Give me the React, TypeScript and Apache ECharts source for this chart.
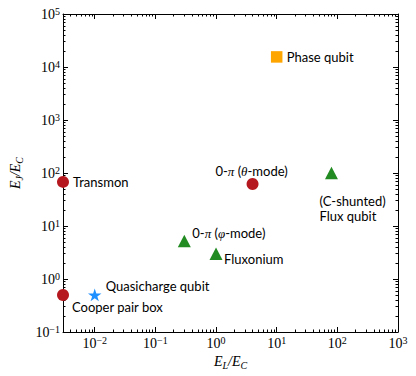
import { useEffect, useRef } from 'react';
import * as echarts from 'echarts';

// ---- data (E_L/E_C, E_J/E_C) ----
const X_MIN = 0.003;
const X_MAX = 1000;
const Y_MIN = 0.1;
const Y_MAX = 100000;

const xTickExponents = [-2, -1, 0, 1, 2, 3];
const yTickExponents = [-1, 0, 1, 2, 3, 4, 5];

const circleNames = ['Transmon', 'Cooper pair box', '0-π (θ-mode)'];
const circleEL = [0.003, 0.003, 4];
const circleEJ = [68, 0.5, 62];

const triangleNames = ['(C-shunted) Flux qubit', '0-π (φ-mode)', 'Fluxonium'];
const triangleEL = [80, 0.3, 1];
const triangleEJ = [100, 5.2, 3];

const squareNames = ['Phase qubit'];
const squareEL = [10];
const squareEJ = [15500];

const starNames = ['Quasicharge qubit'];
const starEL = [0.01];
const starEJ = [0.5];

// ---- label text and placement (offset of text anchor from marker centre, px) ----
const labelText: Record<string, string> = {
  'Transmon': 'Transmon',
  'Cooper pair box': 'Cooper pair box',
  '0-π (θ-mode)': '0-{m|π} ({m|θ}-mode)',
  '(C-shunted) Flux qubit': '(C-shunted)\nFlux qubit',
  '0-π (φ-mode)': '0-{m|π} ({m|φ}-mode)',
  'Fluxonium': 'Fluxonium',
  'Phase qubit': 'Phase qubit',
  'Quasicharge qubit': 'Quasicharge qubit',
};
const labelPlace: Record<string, { ox: number; oy: number; align: string }> = {
  'Transmon': { ox: 10, oy: 0, align: 'left' },
  'Cooper pair box': { ox: 9, oy: 12, align: 'left' },
  '0-π (θ-mode)': { ox: -1, oy: -13, align: 'center' },
  '(C-shunted) Flux qubit': { ox: -12, oy: 35, align: 'left' },
  '0-π (φ-mode)': { ox: 8, oy: -8, align: 'left' },
  'Fluxonium': { ox: 8, oy: 5, align: 'left' },
  'Phase qubit': { ox: 10, oy: 0, align: 'left' },
  'Quasicharge qubit': { ox: 11, oy: -8.5, align: 'left' },
};

const STAR_PATH =
  'path://M0,-100L-22.45,-30.9L-95.11,-30.9L-36.33,11.8L-58.78,80.9L0,38.2L58.78,80.9L36.33,11.8L95.11,-30.9L22.45,-30.9Z';

const lg = (v: number) => Math.log10(v);

function minorValues(lo: number, hi: number) {
  const out: number[] = [];
  for (let n = Math.floor(lo) - 1; n <= Math.ceil(hi); n++) {
    for (let k = 2; k <= 9; k++) {
      const v = n + Math.log10(k);
      if (v >= lo && v <= hi) out.push(v);
    }
  }
  return out;
}

const supText = (v: number) => (v < 0 ? '−' + -v : String(v));
const tickRich = {
  b: { fontFamily: 'Liberation Serif', fontSize: 14, lineHeight: 15, verticalAlign: 'bottom', color: '#000' },
  s: { fontFamily: 'Liberation Serif', fontSize: 10, lineHeight: 9, verticalAlign: 'top', color: '#000' },
};
const nameRich = {
  e: { fontFamily: 'Liberation Serif', fontStyle: 'italic', fontSize: 14, lineHeight: 16, verticalAlign: 'top', color: '#000' },
  sub: { fontFamily: 'Liberation Serif', fontStyle: 'italic', fontSize: 10, lineHeight: 10, verticalAlign: 'bottom', color: '#000' },
};

function buildPoints(names: string[], xs: number[], ys: number[], size: [number, number]) {
  return names.map((name, i) => {
    const p = labelPlace[name];
    return {
      name,
      value: [lg(xs[i]), lg(ys[i])],
      label: {
        show: true,
        formatter: labelText[name],
        position: [p.ox + size[0] / 2, p.oy + size[1] / 2],
        align: p.align,
        verticalAlign: 'middle',
      },
    };
  });
}

export default function App() {
  const ref = useRef<HTMLDivElement>(null);
  useEffect(() => {
    if (!ref.current) return;
    const chart = echarts.init(ref.current, null, { renderer: 'svg' });
    const lx0 = lg(X_MIN), lx1 = lg(X_MAX), ly0 = lg(Y_MIN), ly1 = lg(Y_MAX);
    const xMinor = minorValues(lx0, lx1);
    const yMinor = minorValues(ly0, ly1);
    const black = { color: '#000', width: 1 };

    const axis = (pos: string, lo: number, hi: number, ticks: number[], len: number, line: boolean, labels: boolean, extra: any = {}) => ({
      type: 'value',
      position: pos,
      min: lo,
      max: hi,
      axisLine: { show: line, onZero: false, lineStyle: black },
      axisTick: { show: true, inside: true, length: len, customValues: ticks, lineStyle: black },
      axisLabel: labels
        ? {
            show: true,
            customValues: ticks,
            margin: 3,
            formatter: (v: number) => `{b|10}{s|${supText(Math.round(v))}}`,
            rich: tickRich,
          }
        : { show: false },
      splitLine: { show: false },
      ...extra,
    });

    const labelStyle = {
      fontFamily: 'Lato',
      fontSize: 13,
      color: '#000',
      lineHeight: 15,
      rich: { m: { fontFamily: 'Liberation Serif', fontStyle: 'italic', fontSize: 13, color: '#000' } },
    };

    chart.setOption({
      animation: false,
      grid: { left: 60, top: 14, right: 18, bottom: 44, containLabel: false },
      xAxis: [
        axis('bottom', lx0, lx1, xTickExponents, 5, true, true, {
          name: '{e|E}{sub|L}{e|/E}{sub|C}',
          nameLocation: 'middle',
          nameGap: 22,
          nameTextStyle: { rich: nameRich },
        }),
        axis('bottom', lx0, lx1, xMinor, 2.5, false, false),
        axis('top', lx0, lx1, xTickExponents, 5, true, false),
        axis('top', lx0, lx1, xMinor, 2.5, false, false),
      ],
      yAxis: [
        axis('left', ly0, ly1, yTickExponents, 5, true, true, {
          name: '{e|E}{sub|J}{e|/E}{sub|C}',
          nameLocation: 'middle',
          nameGap: 39,
          nameTextStyle: { rich: nameRich },
        }),
        axis('left', ly0, ly1, yMinor, 2.5, false, false),
        axis('right', ly0, ly1, yTickExponents, 5, true, false),
        axis('right', ly0, ly1, yMinor, 2.5, false, false),
      ],
      series: [
        {
          type: 'scatter',
          symbol: 'circle',
          symbolSize: 12,
          itemStyle: { color: '#b5191f', opacity: 1 },
          label: labelStyle,
          data: buildPoints(circleNames, circleEL, circleEJ, [12, 12]),
        },
        {
          type: 'scatter',
          symbol: 'triangle',
          symbolSize: [13, 12.5],
          itemStyle: { color: '#228b22', opacity: 1 },
          label: labelStyle,
          data: buildPoints(triangleNames, triangleEL, triangleEJ, [13, 12.5]),
        },
        {
          type: 'scatter',
          symbol: 'rect',
          symbolSize: 11.5,
          itemStyle: { color: '#ffa500', opacity: 1 },
          label: labelStyle,
          data: buildPoints(squareNames, squareEL, squareEJ, [11.5, 11.5]),
        },
        {
          type: 'scatter',
          symbol: STAR_PATH,
          symbolSize: [13.5, 12.8],
          itemStyle: { color: '#1e90ff', opacity: 1 },
          label: labelStyle,
          data: buildPoints(starNames, starEL, starEJ, [13.5, 12.8]),
        },
      ],
    });
    return () => chart.dispose();
  }, []);
  return <div ref={ref} style={{ position: 'absolute', left: 0, top: 0, width: 416, height: 376 }} />;
}
